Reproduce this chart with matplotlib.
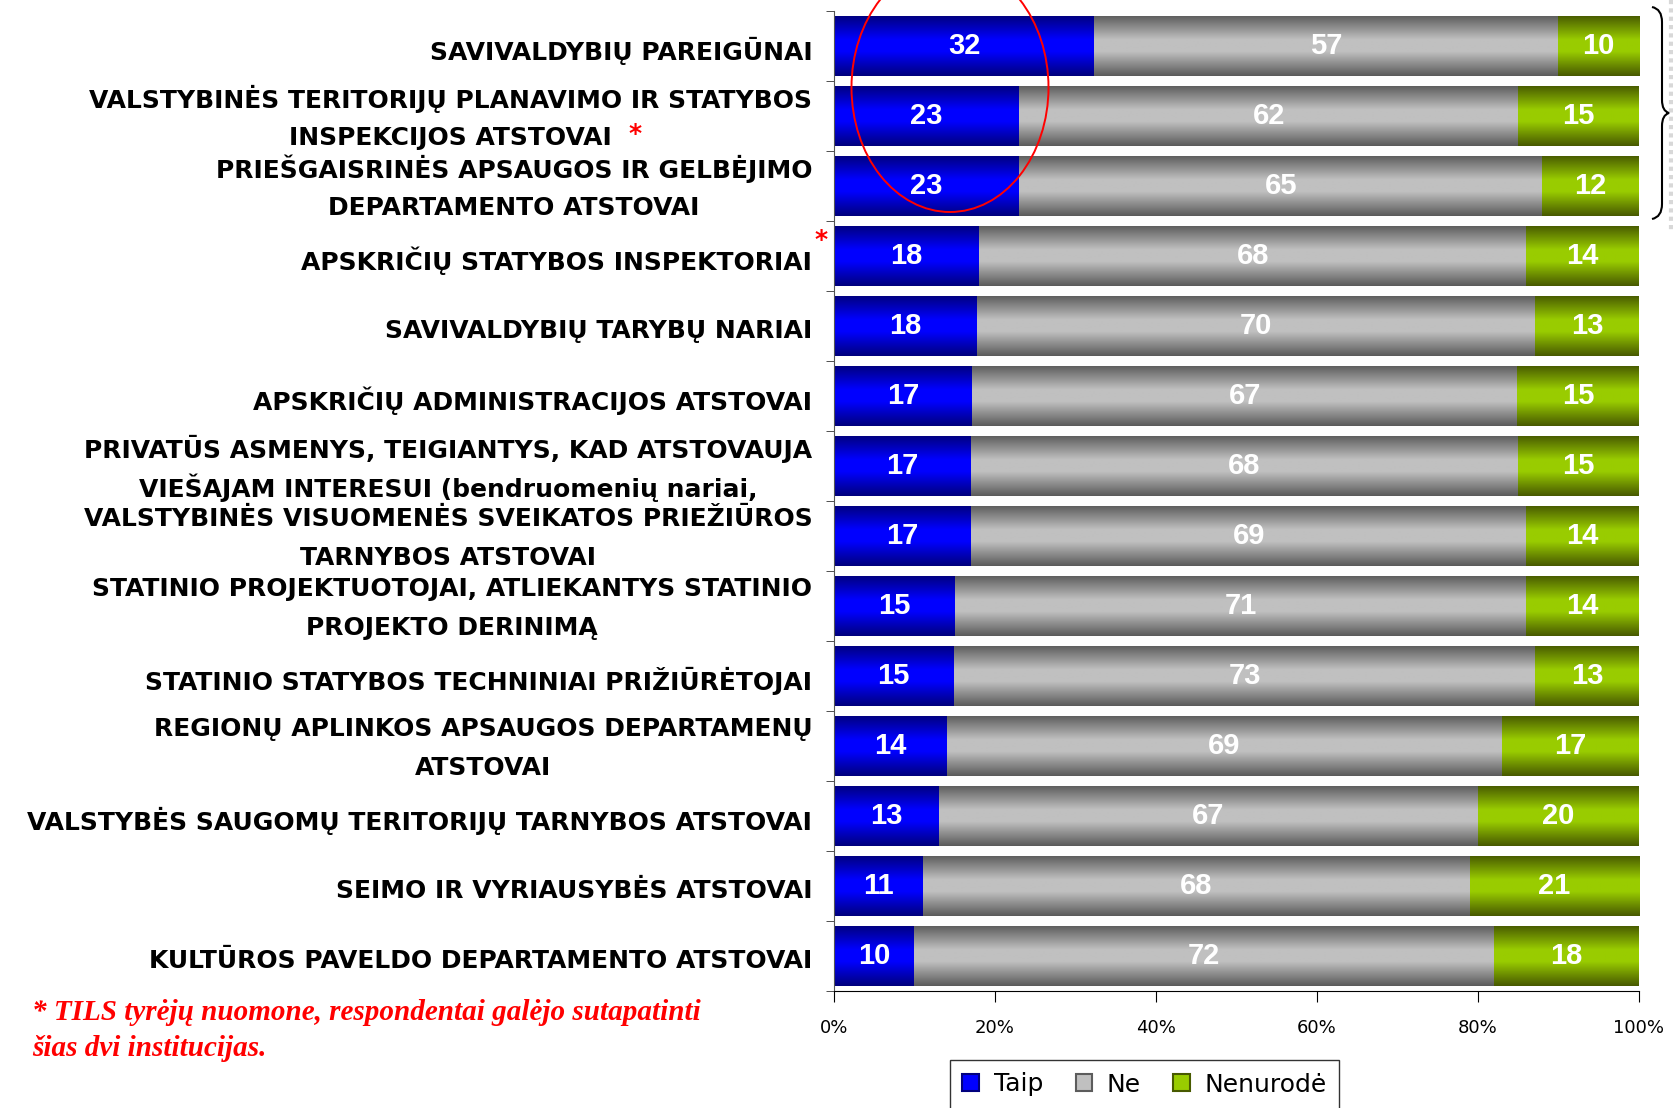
import numpy as np
import matplotlib
matplotlib.use("Agg")
import matplotlib.pyplot as plt
from matplotlib.colors import LinearSegmentedColormap
from matplotlib.patches import Ellipse, Patch, PathPatch
from matplotlib.path import Path
from matplotlib.lines import Line2D

# data
categories = [
    "SAVIVALDYBIŲ PAREIGŪNAI",
    "VALSTYBINĖS TERITORIJŲ PLANAVIMO IR STATYBOS\nINSPEKCIJOS ATSTOVAI",
    "PRIEŠGAISRINĖS APSAUGOS IR GELBĖJIMO\nDEPARTAMENTO ATSTOVAI",
    "APSKRIČIŲ STATYBOS INSPEKTORIAI",
    "SAVIVALDYBIŲ TARYBŲ NARIAI",
    "APSKRIČIŲ ADMINISTRACIJOS ATSTOVAI",
    "PRIVATŪS ASMENYS, TEIGIANTYS, KAD ATSTOVAUJA\nVIEŠAJAM INTERESUI (bendruomenių nariai,",
    "VALSTYBINĖS VISUOMENĖS SVEIKATOS PRIEŽIŪROS\nTARNYBOS ATSTOVAI",
    "STATINIO PROJEKTUOTOJAI, ATLIEKANTYS STATINIO\nPROJEKTO DERINIMĄ",
    "STATINIO STATYBOS TECHNINIAI PRIŽIŪRĖTOJAI",
    "REGIONŲ APLINKOS APSAUGOS DEPARTAMENŲ\nATSTOVAI",
    "VALSTYBĖS SAUGOMŲ TERITORIJŲ TARNYBOS ATSTOVAI",
    "SEIMO IR VYRIAUSYBĖS ATSTOVAI",
    "KULTŪROS PAVELDO DEPARTAMENTO ATSTOVAI",
]
taip = [32, 23, 23, 18, 18, 17, 17, 17, 15, 15, 14, 13, 11, 10]
ne = [57, 62, 65, 68, 70, 67, 68, 69, 71, 73, 69, 67, 68, 72]
nenurode = [10, 15, 12, 14, 13, 15, 15, 14, 14, 13, 17, 20, 21, 18]
series_names = ["Taip", "Ne", "Nenurodė"]
x_ticks = [0, 20, 40, 60, 80, 100]
x_ticklabels = ["0%", "20%", "40%", "60%", "80%", "100%"]
starred = [1, 3]  # labels marked with a red asterisk
footnote_lines = ["* TILS tyrėjų nuomone, respondentai galėjo sutapatinti",
                  "šias dvi institucijas."]

# (dark edge, bright middle) for each series gradient
colors = [("#00007e", "#0000ff"), ("#5c5c5c", "#c0c0c0"), ("#485a00", "#99cc00")]

W, H = 1674, 1108
LAB_FS = 18
fig = plt.figure(figsize=(W / 100, H / 100), dpi=100)
ax = fig.add_axes([834 / W, 1 - 991 / H, 805 / W, 980 / H])

vals = np.array([taip, ne, nenurode], dtype=float)
pct = vals / vals.sum(axis=0) * 100
y = np.arange(len(categories))
grad = np.linspace(0, 1, 64).reshape(-1, 1)
bh = 0.86

left = np.zeros(len(categories))
for i in range(3):
    dark, bright = colors[i]
    cmap = LinearSegmentedColormap.from_list(
        "g%d" % i, [(0, dark), (0.4, bright), (0.6, bright), (1, dark)])
    bars = ax.barh(y, pct[i], left=left, height=bh, color="none", edgecolor="none")
    for b, v, l, w in zip(bars, vals[i], left, pct[i]):
        im = ax.imshow(grad, cmap=cmap, aspect="auto", interpolation="bilinear",
                       extent=(l, l + w, b.get_y() + bh, b.get_y()), zorder=2)
        im.set_clip_path(b)
        ax.text(l + w / 2, b.get_y() + bh / 2, "%d" % v, ha="center", va="center",
                color="white", fontsize=21, fontweight="bold",
                family="Liberation Sans", zorder=3)
    left = left + pct[i]

ax.set_xlim(0, 100)
ax.set_ylim(len(categories) - 0.5, -0.5)
ax.set_xticks(x_ticks)
ax.set_xticklabels(x_ticklabels)
ax.set_yticks([])
ax.set_yticks(np.arange(-0.5, len(categories)), minor=True)
ax.tick_params(axis="y", which="minor", length=6, direction="out", color="#333333")
ax.tick_params(axis="x", length=8, direction="out", pad=12, labelsize=13)
for s in ["top", "right"]:
    ax.spines[s].set_visible(False)
ax.spines["left"].set_color("#555555")

# category labels: each line drawn separately, lines centred on each other
tr = ax.get_yaxis_transform()
fig.canvas.draw()
rend = fig.canvas.get_renderer()
inv = ax.transAxes.inverted()
line_gap = 0.55  # distance between lines, in row units
for k, lab in enumerate(categories):
    lines = lab.split("\n")
    n = len(lines)
    off = 0.07 if n == 1 else 0.035
    ys = [k + off + (j - (n - 1) / 2) * line_gap for j in range(n)]
    first = ax.text(-0.027, ys[0], lines[0], transform=tr, ha="right", va="center",
                    fontsize=LAB_FS, fontweight="bold")
    bb = first.get_window_extent(rend)
    cx = inv.transform(((bb.x0 + bb.x1) / 2, 0))[0]
    last = first
    for j in range(1, n):
        last = ax.text(cx, ys[j], lines[j], transform=tr, ha="center", va="center",
                       fontsize=LAB_FS, fontweight="bold")
    if k in starred:
        lb = last.get_window_extent(rend)
        if n > 1:
            sx = inv.transform((lb.x1 + 16, 0))[0]
            ax.text(sx, ys[-1] - 0.05, "*", transform=tr, ha="left", va="center",
                    color="red", fontsize=LAB_FS, fontweight="bold")
        else:
            sx = inv.transform((lb.x1 + 2, 0))[0]
            ax.text(sx, ys[-1] - 0.3, "*", transform=tr, ha="left", va="center",
                    color="red", fontsize=LAB_FS, fontweight="bold")

# red ellipse around the top blue bars
fig.patches.append(Ellipse((950 / W, 1 - 87.5 / H), 197 / W, 249 / H,
                           transform=fig.transFigure, fill=False,
                           edgecolor="red", lw=1.4, zorder=5))

# brace on the right side
pts = [(1652, 7), (1662, 9), (1662, 22), (1662, 100), (1662, 111), (1669, 113),
       (1662, 115), (1662, 126), (1662, 204), (1662, 217), (1652, 219)]
codes = [Path.MOVETO, Path.CURVE3, Path.CURVE3, Path.LINETO, Path.CURVE3, Path.CURVE3,
         Path.CURVE3, Path.CURVE3, Path.LINETO, Path.CURVE3, Path.CURVE3]
brace = Path([(px / W, 1 - py / H) for px, py in pts], codes)
fig.patches.append(PathPatch(brace, transform=fig.transFigure, fill=False,
                             edgecolor="black", lw=1.5, zorder=5))
# faint dotted strip at the right edge
fig.lines.append(Line2D([1671 / W, 1671 / W], [1, 1 - 230 / H], transform=fig.transFigure,
                        color="#d8d8d8", lw=3, ls=(0, (1, 1))))

# footnote
for i, line in enumerate(footnote_lines):
    fig.text(32 / W, 1 - (1012 + 36 * i) / H, line, ha="left", va="center",
             color="red", fontsize=21, fontweight="bold", fontstyle="italic",
             family="Liberation Serif")

handles = [Patch(facecolor=c[1], edgecolor=c[0], lw=1.5) for c in colors]
fig.legend(handles, series_names, loc="upper left",
           bbox_to_anchor=(950 / W, 1 - 1060 / H), ncol=3, fontsize=18,
           frameon=True, fancybox=False, edgecolor="#333333", framealpha=1,
           handlelength=0.65, handleheight=0.65, handletextpad=0.6,
           columnspacing=1.3, borderpad=0.5, borderaxespad=0)

fig.savefig("out.png", dpi=100)
